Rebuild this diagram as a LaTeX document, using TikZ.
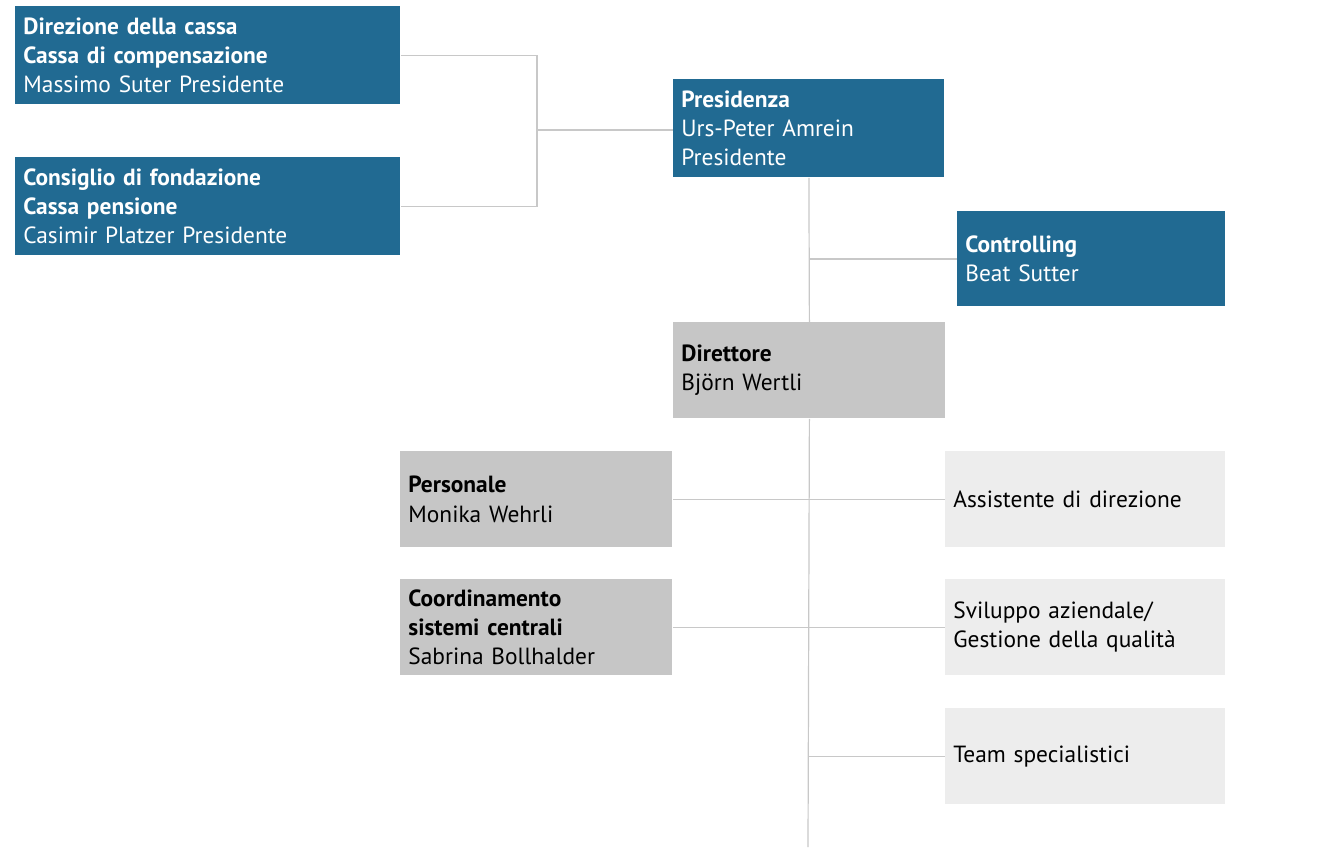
\documentclass[tikz,border=0pt]{standalone}
\usepackage{fontspec}
\setmainfont{PT Sans}
\usepackage{tikz}
\usetikzlibrary{
  positioning,
  calc
}
\definecolor{orgblue}{RGB}{33,106,146}
\definecolor{orggray}{RGB}{198,198,198}
\definecolor{orglight}{RGB}{237,237,237}
\definecolor{orgline}{RGB}{200,200,200}

\begin{document}
\begin{tikzpicture}[
      x=0.5pt,y=-0.5pt,
      unit/.style={
         rectangle,
         anchor=north west,
         inner xsep=4pt,
         inner ysep=0pt,
         align=left,
         font=\fontsize{11.7}{14.6}\selectfont
      },
      board/.style={
         unit,
         fill=orgblue,
         text=white,
         minimum width=192.5pt,
         minimum height=49pt,
         text width=184.5pt
      },
      head/.style={
         unit,
         fill=orgblue,
         text=white,
         minimum width=#1,
         minimum height=49pt,
         text width=#1-8pt
      },
      staff/.style={
         unit,
         fill=orggray,
         text=black,
         minimum width=136pt,
         minimum height=48pt,
         text width=128pt
      },
      office/.style={
         unit,
         fill=orglight,
         text=black,
         minimum width=140pt,
         minimum height=48pt,
         text width=132pt
      },
      link/.style={draw=orgline,line width=0.6pt}
    ]
    \useasboundingbox (0,0) rectangle (1318,847);
    % boxes
    \node (dircassa) [board] at (15,6)
      {\textbf{Direzione della cassa}\\\textbf{Cassa di compensazione}\\Massimo Suter Presidente};
    \node (consiglio) [board] at (15,157)
      {\textbf{Consiglio di fondazione}\\\textbf{Cassa pensione}\\Casimir Platzer Presidente};
    \node (presidenza) [head=135.5pt] at (673,79)
      {\textbf{Presidenza}\\Urs-Peter Amrein\\Presidente};
    \node (controlling) [head=134pt, minimum height=47.5pt] at (957,211)
      {\textbf{Controlling}\\Beat Sutter};
    \node (direttore) [staff] at (673,322)
      {\textbf{Direttore}\\Björn Wertli};
    \node (personale) [staff] at (400,451)
      {\textbf{Personale}\\Monika Wehrli};
    \node (coordin) [staff] at (400,579)
      {\textbf{Coordinamento}\\\textbf{sistemi centrali}\\Sabrina Bollhalder};
    \node (assist) [office] at (945,451)
      {Assistente di direzione};
    \node (sviluppo) [office] at (945,579)
      {Sviluppo aziendale/\\Gestione della qualità};
    \node (team) [office] at (945,708)
      {Team specialistici};
    % connectors
    \coordinate (fork) at (537,130);
    \coordinate (tail) at (808,847);
    \draw[link] (dircassa.east) -| (fork) |- (consiglio.east);
    \draw[link] (fork) -- (fork -| presidenza.west);
    \draw[link] (presidenza.south) -- (direttore.north);
    \draw[link] (controlling.west) -- (controlling.west -| presidenza.south);
    \draw[link] (direttore.south) -- (tail);
    \draw[link] (personale.east) -- (assist.west);
    \draw[link] (coordin.east) -- (sviluppo.west);
    \draw[link] (team.west) -- (team.west -| direttore.south);
\end{tikzpicture}
\end{document}
